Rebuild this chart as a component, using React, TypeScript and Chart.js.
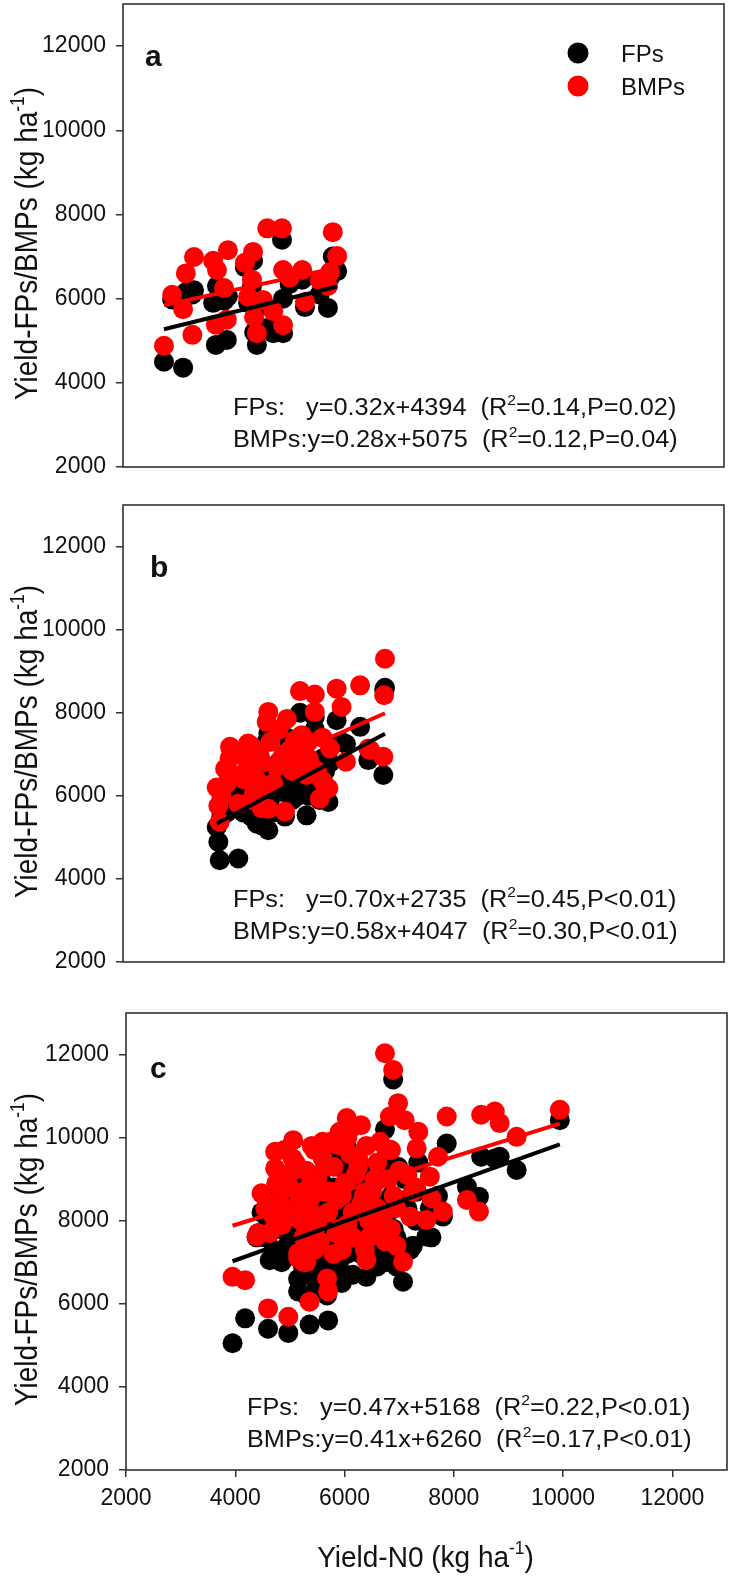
import React, { useEffect, useRef } from "react";
import { Chart, registerables } from "chart.js";

Chart.register(...registerables);

const FONT = "'Liberation Sans', Arial, Helvetica, sans-serif";

const seriesNames = ["FPs", "BMPs"];
const seriesColors = ["#000000", "#ff0000"];
const eqPrefixes = ["FPs:   ", "BMPs:"];
const yTickValues = [2000, 4000, 6000, 8000, 10000, 12000];
const xTickValues = [2000, 4000, 6000, 8000, 10000, 12000];
const yTitleMain = "Yield-FPs/BMPs (kg ha";
const xTitleMain = "Yield-N0 (kg ha";
const unitSup = "-1";

// Panel a
const xA = [2750, 2900, 3100, 3150, 3270, 3300, 3650, 3700, 3720, 3850, 3900, 3920, 4230, 4290, 4360, 4380, 4400, 4450, 4560, 4640, 4750, 4910, 4930, 4930, 5050, 5280, 5330, 5600, 5750, 5790, 5840, 5920];
const fpA = [4500, 5980, 4360, 6150, 6100, 6200, 5900, 4900, 6300, 5950, 5020, 6050, 6750, 5900, 6300, 6900, 5200, 4900, 5850, 5300, 5180, 7400, 5180, 6000, 6350, 6450, 5800, 6100, 5780, 6500, 7000, 6650];
const bmpA = [4880, 6090, 5750, 6600, 5140, 6990, 6900, 5380, 6680, 6250, 5500, 7150, 6850, 6040, 6450, 7110, 5560, 5180, 5970, 7670, 5700, 7670, 5370, 6680, 6500, 6680, 5920, 6440, 6300, 6630, 7580, 7010];
const slopesA = [0.32, 0.28];
const interceptsA = [4394, 5075];
const r2A = ["0.14", "0.12"];
const pA = ["=0.02", "=0.04"];

// Panel b
const xB = [3770, 3745, 3715, 3870, 3960, 4110, 4290, 4260, 4450, 4540, 4660, 4690, 4630, 4660, 4810, 4965, 5000, 5150, 5180, 5240, 5360, 5390, 5270, 5510, 5510, 5600, 5640, 5760, 5790, 5910, 6000, 6080, 6340, 6490, 6520, 6765, 6795, 6780, 4400, 4000, 4200, 4900, 5050, 5450, 5700, 4500, 5200, 3900,
  3800, 3950, 4100, 4250, 4350, 4550, 4700, 4750, 4850, 4950, 5100, 5300, 5400, 5550, 5650, 4350];
const fpB = [4450, 4890, 5250, 5900, 6300, 4490, 6400, 6000, 5330, 5290, 5170, 5900, 7300, 7500, 6200, 5500, 7400, 6800, 6300, 8000, 5530, 6700, 7000, 7900, 7600, 5900, 6100, 5850, 6800, 7820, 7300, 7250, 7660, 6860, 7100, 6500, 8600, 8550, 5700, 6000, 5600, 6100, 6500, 6300, 6600, 6600, 6000, 5600,
  5500, 5700, 6100, 5800, 6200, 6000, 6500, 5600, 6800, 6200, 5900, 6400, 6000, 6500, 6900, 5500];
const bmpB = [5370, 5760, 6200, 6650, 7180, 5810, 7260, 6940, 6380, 5700, 5690, 6220, 7780, 8020, 6700, 5620, 7850, 7340, 6980, 8520, 6500, 7300, 7460, 8440, 8020, 5930, 6380, 6180, 7140, 8580, 8140, 6820, 8660, 7140, 7100, 6940, 9300, 8420, 6100, 6500, 6400, 6900, 7100, 6700, 6250, 7000, 6600, 6300,
  6000, 6900, 7000, 6600, 7200, 6800, 7300, 6300, 7600, 7000, 6600, 7200, 6900, 6600, 7400, 5900];
const slopesB = [0.7, 0.58];
const interceptsB = [2735, 4047];
const r2B = ["0.45", "0.30"];
const pB = ["<0.01", "<0.01"];

// Panel c
const xC = [3950, 4180, 4600, 4970, 5360, 5700, 5680, 4630, 4420, 4480, 4390, 4730, 4730, 5060, 5150, 5240, 5880, 5910, 6040, 6740, 6890, 6830, 6770, 6980, 7100, 7350, 7870, 8500, 8750, 8840, 9150, 9940, 7710, 7320, 7560, 7590, 8240, 8460, 7800, 7500, 7070, 6400, 6370, 4950,
  4800, 4900, 5000, 5100, 5200, 5300, 5400, 5500, 5600, 5700, 5800, 5900, 6000, 6100, 6200, 6300, 6400, 6500, 6600, 6700, 6800, 6900, 7000,
  5050, 5250, 5450, 5650, 5850, 6050, 6250, 6450, 6650, 6850, 5550, 5350, 6150, 6350, 5750, 4700, 4600, 5950, 6550, 7200, 7300, 6950, 5150, 5450, 5800, 5300, 5500, 6600,
  4550, 4850, 5150, 5450, 5750, 6050, 6350, 6650, 6950, 7250, 4750, 5050, 5350, 5650, 5950, 6250, 6550, 6850, 7150, 5250, 5550, 5850, 6150, 6450, 6750, 4900, 5600, 6300, 6100, 5400];
const fpC = [5050, 5650, 5400, 5300, 5500, 5600, 6200, 7050, 7700, 8200, 7600, 8300, 8600, 9000, 6600, 6900, 9300, 9600, 9800, 10200, 11400, 9700, 9300, 9300, 9000, 9400, 9860, 9540, 9500, 9540, 9220, 10420, 8600, 8700, 8300, 7600, 8820, 8580, 8100, 7620, 6530, 6650, 7300, 7400,
  7800, 8100, 7500, 8400, 7200, 7900, 8200, 7600, 8500, 7400, 8800, 7000, 8300, 7700, 8600, 7200, 8900, 7900, 8400, 7500, 8200, 7800, 8500,
  8800, 6800, 8600, 7900, 7300, 8900, 7900, 7400, 9000, 7100, 6900, 7100, 6700, 8100, 8700, 7300, 7900, 6500, 7000, 7300, 8000, 6900, 6300, 6600, 6600, 6200, 6400, 6900,
  7600, 7000, 7700, 7300, 7800, 7200, 7700, 7100, 7600, 7400, 8000, 8300, 8000, 8400, 8100, 8500, 8200, 8600, 8300, 7500, 7000, 6900, 7400, 7000, 7000, 8700, 8900, 9300, 9200, 9100];
const bmpC = [6650, 6570, 5890, 5690, 6050, 6300, 6610, 7700, 7700, 8660, 7620, 9660, 9260, 9940, 7220, 7010, 9820, 10140, 10470, 12030, 11630, 10510, 9700, 10830, 10420, 10140, 10510, 10550, 10630, 10350, 10020, 10670, 9540, 9740, 9060, 8540, 8500, 8220, 8220, 8020, 7010, 7050, 7300, 8200,
  8500, 9100, 8800, 9400, 8000, 9200, 8600, 9000, 9500, 8200, 9300, 7800, 8900, 9600, 9100, 8400, 9800, 8700, 9400, 8100, 9000, 8600, 9200,
  9500, 7600, 9700, 8700, 8500, 10000, 9300, 8000, 9900, 7800, 7500, 8300, 7600, 8200, 9900, 8100, 8400, 7300, 8900, 8100, 8800, 7400, 7100, 7300, 7200, 7000, 7900, 8300,
  8300, 7900, 8400, 8000, 8700, 7900, 8600, 7800, 8300, 8700, 8900, 9200, 8800, 9300, 8600, 9500, 9000, 9700, 9100, 8700, 8100, 7700, 8200, 7600, 7500, 9700, 9900, 10300, 10200, 9800];
const slopesC = [0.47, 0.41];
const interceptsC = [5168, 6260];
const r2C = ["0.22", "0.17"];
const pC = ["<0.01", "<0.01"];

type Part = { t: string; sup?: boolean };

function drawRich(ctx: CanvasRenderingContext2D, parts: Part[], x: number, y: number, size: number, weight: string, align: "left" | "center", sx = 1, sy = 1) {
  const supSize = size * 0.62;
  const ws = parts.map((p) => {
    ctx.font = `${weight} ${p.sup ? supSize : size}px ${FONT}`;
    return ctx.measureText(p.t).width;
  });
  const total = ws.reduce((a, b) => a + b, 0) * sx;
  ctx.save();
  ctx.translate(align === "center" ? x - total / 2 : x, y);
  ctx.scale(sx, sy);
  ctx.textAlign = "left";
  ctx.textBaseline = "alphabetic";
  let cx = 0;
  parts.forEach((p, i) => {
    ctx.font = `${weight} ${p.sup ? supSize : size}px ${FONT}`;
    ctx.fillText(p.t, cx, p.sup ? -size * 0.42 : 0);
    cx += ws[i];
  });
  ctx.restore();
}

const decorPlugin = {
  id: "panelDecor",
  afterDraw(chart: any, _args: any, opts: any) {
    const ctx: CanvasRenderingContext2D = chart.ctx;
    const ca = chart.chartArea;
    ctx.save();
    ctx.strokeStyle = "#333";
    ctx.lineWidth = 1.6;
    ctx.strokeRect(ca.left, ca.top, ca.right - ca.left, ca.bottom - ca.top);
    ctx.fillStyle = "#111";

    // panel letter
    ctx.font = `bold 30px ${FONT}`;
    ctx.textAlign = "left";
    ctx.textBaseline = "alphabetic";
    ctx.fillText(opts.letter, ca.left + opts.letterDx, ca.top + opts.letterDy);

    // y title
    ctx.save();
    ctx.translate(37, (ca.top + ca.bottom) / 2 + 8);
    ctx.rotate(-Math.PI / 2);
    drawRich(ctx, [{ t: yTitleMain }, { t: unitSup, sup: true }, { t: ")" }], 0, 0, 28, "normal", "center", 1, 1.12);
    ctx.restore();

    // equations
    for (let i = 0; i < 2; i++) {
      const head = `${eqPrefixes[i]}y=${opts.slopes[i].toFixed(2)}x+${opts.intercepts[i]}  (R`;
      const tail = `=${opts.r2[i]},P${opts.p[i]})`;
      drawRich(ctx, [{ t: head }, { t: "2", sup: true }, { t: tail }], opts.eqX, ca.bottom - opts.eqDy[i], 23, "normal", "left", 1.1);
    }

    // legend
    if (opts.legend) {
      for (let i = 0; i < 2; i++) {
        const cy = 53 + i * 33;
        ctx.beginPath();
        ctx.fillStyle = seriesColors[i];
        ctx.arc(578, cy, 10.5, 0, Math.PI * 2);
        ctx.fill();
        ctx.fillStyle = "#111";
        ctx.font = `24px ${FONT}`;
        ctx.textAlign = "left";
        ctx.textBaseline = "alphabetic";
        ctx.fillText(seriesNames[i], 621, cy + 9);
      }
    }

    // x title
    if (opts.xTitle) {
      ctx.fillStyle = "#111";
      drawRich(ctx, [{ t: xTitleMain }, { t: unitSup, sup: true }, { t: ")" }], (ca.left + ca.right) / 2 - 1, opts.xTitleY, 28, "normal", "center", 1, 1.08);
    }
    ctx.restore();
  },
};

type PanelCfg = {
  top: number;
  h: number;
  yWidth: number;
  pad: { left: number; right: number; top: number; bottom: number };
  xs: number[];
  fp: number[];
  bmp: number[];
  slopes: number[];
  intercepts: number[];
  r2: string[];
  p: string[];
  letter: string;
  letterDx: number;
  letterDy: number;
  eqX: number;
  eqDy: number[];
  legend: boolean;
  showX: boolean;
};

function Panel({ cfg }: { cfg: PanelCfg }) {
  const ref = useRef<HTMLCanvasElement>(null);
  useEffect(() => {
    const xmin = Math.min(...cfg.xs);
    const xmax = Math.max(...cfg.xs);
    const lineData = (k: number) => [
      { x: xmin, y: cfg.slopes[k] * xmin + cfg.intercepts[k] },
      { x: xmax, y: cfg.slopes[k] * xmax + cfg.intercepts[k] },
    ];
    const pts = (ys: number[]) => cfg.xs.map((x, i) => ({ x, y: ys[i] }));
    const tickFont = { family: FONT, size: 23 };
    const chart = new Chart(ref.current as HTMLCanvasElement, {
      type: "scatter",
      data: {
        datasets: [
          { label: "FPs fit", data: lineData(0), showLine: true, borderColor: seriesColors[0], borderWidth: 4, pointRadius: 0, order: 0 },
          { label: "BMPs fit", data: lineData(1), showLine: true, borderColor: seriesColors[1], borderWidth: 4, pointRadius: 0, order: 1 },
          { label: seriesNames[1], data: pts(cfg.bmp), backgroundColor: seriesColors[1], borderWidth: 0, pointRadius: 10, order: 2 },
          { label: seriesNames[0], data: pts(cfg.fp), backgroundColor: seriesColors[0], borderWidth: 0, pointRadius: 10, order: 3 },
        ],
      },
      options: {
        animation: false,
        responsive: false,
        devicePixelRatio: 1,
        layout: { padding: cfg.pad, autoPadding: false },
        plugins: {
          legend: { display: false },
          tooltip: { enabled: false },
          panelDecor: {
            letter: cfg.letter,
            letterDx: cfg.letterDx,
            letterDy: cfg.letterDy,
            slopes: cfg.slopes,
            intercepts: cfg.intercepts,
            r2: cfg.r2,
            p: cfg.p,
            eqX: cfg.eqX,
            eqDy: cfg.eqDy,
            legend: cfg.legend,
            xTitle: cfg.showX,
            xTitleY: 577,
          },
        } as any,
        scales: {
          x: {
            type: "linear",
            min: 2000,
            max: 13000,
            display: cfg.showX,
            afterBuildTicks: (s: any) => {
              s.ticks = xTickValues.map((v) => ({ value: v }));
            },
            afterFit: (s: any) => {
              s.height = cfg.showX ? 60 : 0;
              s.paddingLeft = 0;
              s.paddingRight = 0;
              s.paddingTop = 0;
              s.paddingBottom = 0;
            },
            border: { display: false },
            grid: { display: true, drawOnChartArea: false, drawTicks: true, tickLength: 7, color: "#333", lineWidth: 1.5 },
            ticks: { font: tickFont, color: "#111", padding: 8, maxRotation: 0, autoSkip: false, callback: (v: any) => String(v) },
          },
          y: {
            type: "linear",
            min: 2000,
            max: 13000,
            afterBuildTicks: (s: any) => {
              s.ticks = yTickValues.map((v) => ({ value: v }));
            },
            afterFit: (s: any) => {
              s.width = cfg.yWidth;
              s.paddingLeft = 0;
              s.paddingRight = 0;
              s.paddingTop = 0;
              s.paddingBottom = 0;
            },
            border: { display: false },
            grid: { display: true, drawOnChartArea: false, drawTicks: true, tickLength: 7, color: "#333", lineWidth: 1.5 },
            ticks: { font: tickFont, color: "#111", padding: 10, autoSkip: false, callback: (v: any) => String(v) },
          },
        },
      },
      plugins: [decorPlugin as any],
    });
    return () => chart.destroy();
  }, []);
  return (
    <canvas
      ref={ref}
      width={732}
      height={cfg.h}
      style={{ position: "absolute", left: 0, top: cfg.top, width: 732, height: cfg.h }}
    />
  );
}

const panels: PanelCfg[] = [
  {
    top: 0, h: 490, yWidth: 123, pad: { left: 0, right: 8, top: 4, bottom: 23 },
    xs: xA, fp: fpA, bmp: bmpA, slopes: slopesA, intercepts: interceptsA, r2: r2A, p: pA,
    letter: "a", letterDx: 22, letterDy: 62, eqX: 233, eqDy: [52, 20], legend: true, showX: false,
  },
  {
    top: 490, h: 500, yWidth: 123, pad: { left: 0, right: 8, top: 15, bottom: 28 },
    xs: xB, fp: fpB, bmp: bmpB, slopes: slopesB, intercepts: interceptsB, r2: r2B, p: pB,
    letter: "b", letterDx: 27, letterDy: 72, eqX: 233, eqDy: [55, 23], legend: false, showX: false,
  },
  {
    top: 990, h: 589, yWidth: 126, pad: { left: 0, right: 5, top: 23, bottom: 49 },
    xs: xC, fp: fpC, bmp: bmpC, slopes: slopesC, intercepts: interceptsC, r2: r2C, p: pC,
    letter: "c", letterDx: 24, letterDy: 65, eqX: 247, eqDy: [55, 23], legend: false, showX: true,
  },
];

export default function App() {
  return (
    <div style={{ position: "absolute", left: 0, top: 0, width: 732, height: 1579, background: "#fff" }}>
      {panels.map((cfg, i) => (
        <Panel key={i} cfg={cfg} />
      ))}
    </div>
  );
}
